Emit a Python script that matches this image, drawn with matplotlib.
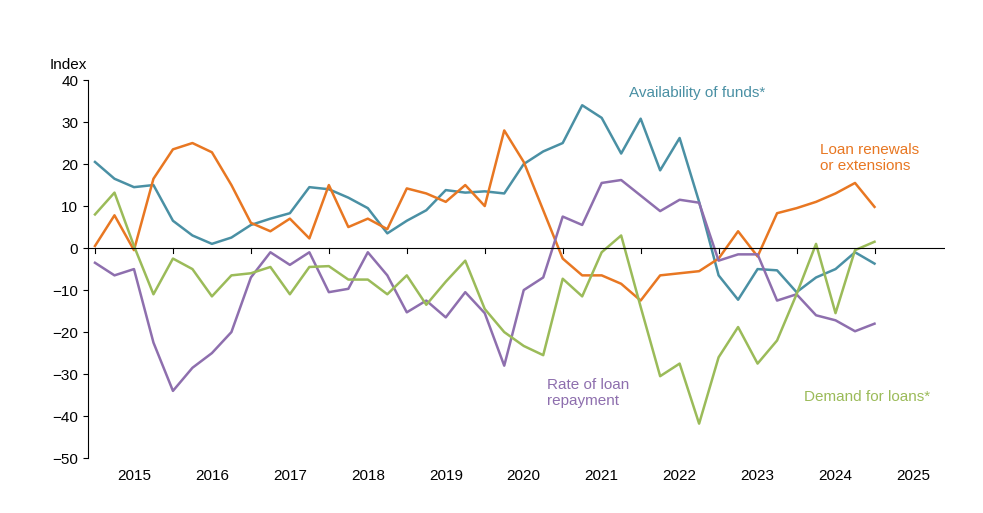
import numpy as np
import matplotlib.pyplot as plt

plt.rcParams['font.family'] = ['Liberation Sans', 'DejaVu Sans']

# quarterly, 2015Q1 .. 2025Q1
availability = [20.5, 16.5, 14.5, 15, 6.5, 3, 1, 2.5, 5.5, 7, 8.3, 14.5, 14, 12, 9.5, 3.5,
                6.5, 9, 13.8, 13.2, 13.5, 13, 20, 23, 25, 34, 31, 22.5, 30.8, 18.5, 26.2,
                11, -6.5, -12.3, -5, -5.3, -10.5, -7, -5, -1, -3.7]
renewals = [0.5, 7.8, -0.5, 16.5, 23.5, 25, 22.8, 15, 6, 4, 7, 2.3, 15, 5, 7, 4.5,
            14.2, 13, 11, 15, 10, 28, 20.5, 9, -2.5, -6.5, -6.5, -8.5, -12.5, -6.5, -6,
            -5.5, -2.5, 4, -2, 8.3, 9.5, 11, 13, 15.5, 9.8]
repayment = [-3.5, -6.5, -5, -22.5, -34, -28.5, -25, -20, -7, -1, -4, -1, -10.5, -9.7, -1, -6.5,
             -15.3, -12.5, -16.5, -10.5, -15.5, -28, -10, -7, 7.5, 5.5, 15.5, 16.2, 12.5, 8.8, 11.5,
             10.8, -3, -1.5, -1.5, -12.5, -11, -16, -17.2, -19.8, -18]
demand = [8, 13.2, 0.5, -11, -2.5, -5, -11.5, -6.5, -6, -4.5, -11, -4.5, -4.3, -7.5, -7.5, -11,
          -6.5, -13.5, -8, -3, -14.5, -20, -23.3, -25.5, -7.3, -11.5, -1, 3, -14, -30.5, -27.5,
          -41.8, -26, -18.8, -27.5, -22, -11, 1, -15.5, -0.5, 1.5]
years = list(range(2015, 2026))

x = 2015 + 0.25 * np.arange(len(availability))

fig = plt.figure(figsize=(9.83, 5.13), dpi=100)
ax = fig.add_axes([0.0895, 0.107, 0.8715, 0.737])

ax.plot(x, availability, color='#4a90a4', lw=1.8)
ax.plot(x, renewals, color='#e87722', lw=1.8)
ax.plot(x, repayment, color='#8e6fae', lw=1.8)
ax.plot(x, demand, color='#9bbb59', lw=1.8)

ax.axhline(0, color='black', lw=0.8)
for y in years + [2026]:
    ax.plot([y, y], [0, -1.2], color='black', lw=0.8)

ax.set_xlim(2014.91, 2025.9)
ax.set_ylim(-50, 40)
ax.set_yticks(range(-50, 41, 10))
ax.set_xticks([y + 0.5 for y in years])
ax.set_xticklabels([str(y) for y in years])
ax.tick_params(axis='x', length=0, pad=8, labelsize=11)
ax.tick_params(axis='y', labelsize=11)
for s in ['top', 'right', 'bottom']:
    ax.spines[s].set_visible(False)

ax.text(-0.045, 1.03, 'Index', transform=ax.transAxes, fontsize=11)
ax.text(2021.85, 36, 'Availability of funds*', color='#4a90a4', fontsize=11)
ax.text(2024.3, 21.5, 'Loan renewals\nor extensions', color='#e87722', fontsize=11, va='center')
ax.text(2020.8, -34.5, 'Rate of loan\nrepayment', color='#8e6fae', fontsize=11, va='center')
ax.text(2024.1, -35.5, 'Demand for loans*', color='#9bbb59', fontsize=11, va='center')

fig.savefig('out.png', dpi=100)
